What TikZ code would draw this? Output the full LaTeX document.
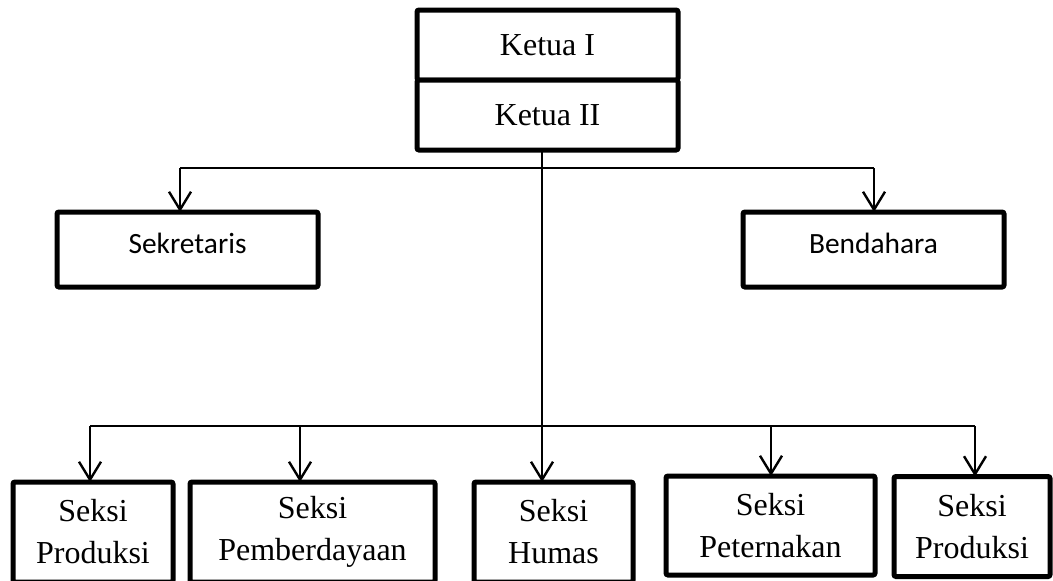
\documentclass[tikz,border=0pt]{standalone}
\usepackage{fontspec}
\setmainfont{Liberation Serif}
\newfontfamily\calibrifont{Carlito}
\usepackage{tikz}
\usetikzlibrary{arrows.meta,positioning,calc}
\tikzset{jabatan/.style={draw, line width=2.5pt, rounded corners=1pt, inner sep=0pt, outer sep=0pt, align=center, fill=white}}
\tikzset{ketuabox/.style={jabatan, minimum width=130.5pt, minimum height=35pt, font=\fontsize{16}{21}\selectfont}}
\tikzset{stafbox/.style={jabatan, minimum width=130.5pt, minimum height=37.5pt, text depth=6pt, font=\calibrifont\fontsize{14.7}{18}\selectfont}}
\tikzset{seksi/.style={jabatan, minimum height=50pt, font=\fontsize{16}{21}\selectfont}}
\tikzset{arrow/.style={-{Straight Barb[length=9pt, width=11pt]}, line width=1.2pt}}
\tikzset{garis/.style={line width=1.2pt}}

\begin{document}
\begin{tikzpicture}[x=0.5pt, y=-0.5pt]
  \useasboundingbox (0,0) rectangle (1053,580);

  % Ketua di atas
  \node[ketuabox] (ketua1) at (547.5,45) {Ketua I};
  \node[ketuabox, below=0pt of ketua1] (ketua2) {Ketua II};

  % Sekretaris dan bendahara
  \node[stafbox] (sekretaris) at (187.5,249.5) {Sekretaris};
  \node[stafbox] (bendahara) at (873.5,249.5) {Bendahara};

  % Seksi-seksi di bawah
  \node[seksi, minimum width=80pt] (produksi) at (93,532) {Seksi\\Produksi};
  \node[seksi, minimum width=122.5pt] (pemberdayaan) at (312.5,532) {Seksi\\Pemberdayaan};
  \node[seksi, minimum width=79.5pt] (humas) at (553.5,532) {Seksi\\Humas};
  \node[seksi, minimum width=104.5pt, minimum height=49.5pt] (peternakan) at (770.5,525.5) {Seksi\\Peternakan};
  \node[seksi, minimum width=78pt] (produksib) at (972,526.5) {Seksi\\Produksi};

  % Titik cabang
  \coordinate (kiri) at (180,168);
  \coordinate (kanan) at (874,168);
  \coordinate (s1) at (90,426);
  \coordinate (s2) at (300,426);
  \coordinate (s3) at (542,426);
  \coordinate (s4) at (771,426);
  \coordinate (s5) at (975,426);

  % Garis ke sekretaris dan bendahara
  \draw[garis] (kiri) -- (kanan);
  \draw[arrow] (kiri) -- (kiri |- sekretaris.north);
  \draw[arrow] (kanan) -- (kanan |- bendahara.north);

  % Garis utama ke seksi
  \draw[arrow] (ketua2.south -| s3) -- (s3 |- humas.north);
  \draw[garis] (s1) -- (s5);
  \draw[arrow] (s1) -- (s1 |- produksi.north);
  \draw[arrow] (s2) -- (s2 |- pemberdayaan.north);
  \draw[arrow] (s4) -- (s4 |- peternakan.north);
  \draw[arrow] (s5) -- (s5 |- produksib.north);
\end{tikzpicture}
\end{document}
